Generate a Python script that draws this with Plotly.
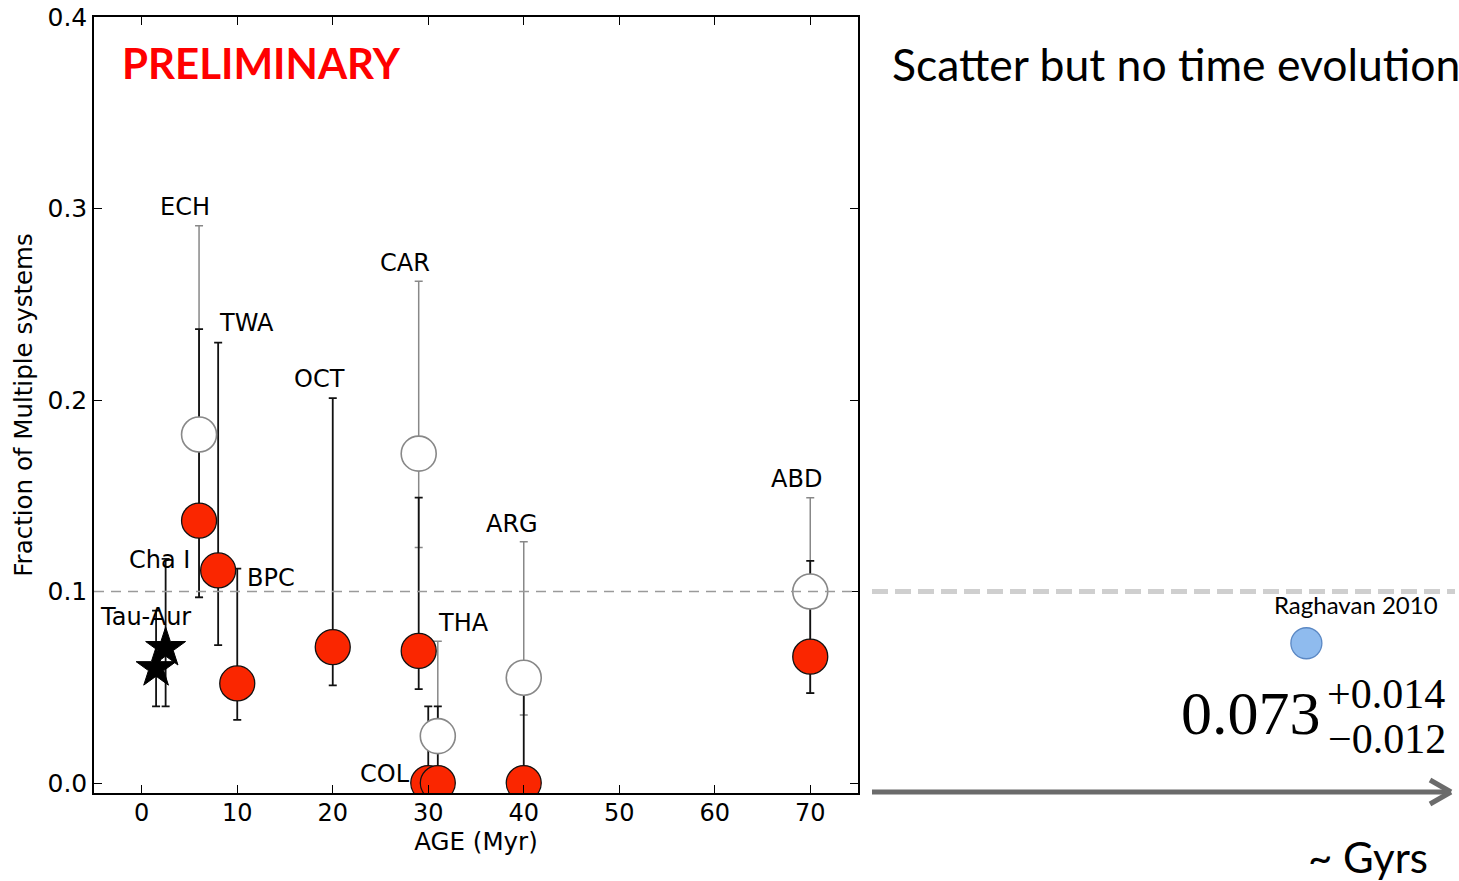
import plotly.graph_objects as go

# ---- data ---------------------------------------------------------------
# filled (red) estimates per moving group: age [Myr], fraction, upper / lower bound
red_names = ["ECH", "TWA", "BPC", "OCT", "CAR", "COL", "THA", "ARG", "ABD"]
red_age = [6, 8, 10, 20, 29, 30, 31, 40, 70]
red_frac = [0.137, 0.111, 0.052, 0.071, 0.069, 0.0, 0.0, 0.0, 0.066]
red_hi = [0.237, 0.230, 0.112, 0.201, 0.149, 0.040, 0.040, 0.050, 0.116]
red_lo = [0.097, 0.072, 0.033, 0.051, 0.049, 0.0, 0.0, 0.0, 0.047]

# open (white) estimates
open_names = ["ECH", "CAR", "THA", "ARG", "ABD"]
open_age = [6, 29, 31, 40, 70]
open_frac = [0.182, 0.172, 0.0245, 0.055, 0.100]
open_hi = [0.291, 0.262, 0.074, 0.126, 0.149]
open_lo = [0.097, 0.123, 0.016, 0.0355, 0.047]

# star-forming regions (stars)
star_names = ["Tau-Aur", "Cha I"]
star_age = [1.5, 2.5]
star_frac = [0.060, 0.0705]
star_hi = [0.090, 0.117]
star_lo = [0.040, 0.040]

# field reference value
field_label = "Raghavan 2010"
field_frac = 0.073
field_plus = 0.014
field_minus = 0.012
field_pos = 0.74  # position along the schematic "~ Gyrs" axis

reference_level = 0.1

x_ticks = [0, 10, 20, 30, 40, 50, 60, 70]
y_ticks = [0.0, 0.1, 0.2, 0.3, 0.4]
y_ticktext = ["0.0", "0.1", "0.2", "0.3", "0.4"]

# label positions (age, fraction)
group_labels = [
    ("ECH", 4.5, 0.301), ("CAR", 27.6, 0.2715), ("TWA", 11.0, 0.240),
    ("OCT", 18.6, 0.211), ("ABD", 68.6, 0.1587), ("ARG", 38.8, 0.1352),
    ("Cha I", 1.9, 0.1164), ("BPC", 13.5, 0.107), ("Tau-Aur", 0.4, 0.0867),
    ("THA", 33.7, 0.0836), ("COL", 25.5, 0.0047),
]

# ---- geometry -----------------------------------------------------------
W, H = 1459, 881
ML, MR, MT, MB = 94, 0, 17, 88
PW, PH = W - ML - MR, H - MT - MB


def px(p):
    return (p - ML) / PW


def py(p):
    return (H - MB - p) / PH


main_domain = [0, px(858)]
side_domain = [px(872), 1.0]
y_range = [-0.0052, 0.4]


def plus(v, hi):
    return [h - x for x, h in zip(v, hi)]


def minus(v, lo):
    return [x - l for x, l in zip(v, lo)]


invisible = dict(size=1, color="rgba(0,0,0,0)")
fig = go.Figure()

# error bars first so that markers sit on top of them
fig.add_trace(go.Scatter(
    x=open_age, y=open_frac, mode="markers", marker=invisible,
    error_y=dict(type="data", symmetric=False, array=plus(open_frac, open_hi),
                 arrayminus=minus(open_frac, open_lo), color="#888888",
                 thickness=1.5, width=4),
    showlegend=False, hoverinfo="skip"))
fig.add_trace(go.Scatter(
    x=red_age, y=red_frac, mode="markers", marker=invisible,
    error_y=dict(type="data", symmetric=False, array=plus(red_frac, red_hi),
                 arrayminus=minus(red_frac, red_lo), color="#111111",
                 thickness=1.8, width=4),
    showlegend=False, hoverinfo="skip"))
fig.add_trace(go.Scatter(
    x=star_age, y=star_frac, mode="markers", marker=invisible,
    error_y=dict(type="data", symmetric=False, array=plus(star_frac, star_hi),
                 arrayminus=minus(star_frac, star_lo), color="#111111",
                 thickness=1.8, width=4),
    showlegend=False, hoverinfo="skip"))

fig.add_trace(go.Scatter(
    x=open_age, y=open_frac, mode="markers", text=open_names,
    marker=dict(symbol="circle", size=35, color="white",
                line=dict(color="#888888", width=1.6)),
    showlegend=False))
fig.add_trace(go.Scatter(
    x=red_age, y=red_frac, mode="markers", text=red_names,
    marker=dict(symbol="circle", size=35, color="#FA2600",
                line=dict(color="#111111", width=1.3)),
    showlegend=False))
fig.add_trace(go.Scatter(
    x=star_age, y=star_frac, mode="markers", text=star_names,
    marker=dict(symbol="star", size=30, color="black",
                line=dict(color="black", width=1)),
    showlegend=False))

# field value on the schematic right-hand axis
fig.add_trace(go.Scatter(
    x=[field_pos], y=[field_frac], mode="markers", xaxis="x2", yaxis="y2",
    marker=dict(symbol="circle", size=31, color="#8FBBEE",
                line=dict(color="#5B88C4", width=1.3)),
    showlegend=False))

axis_common = dict(
    showgrid=False, zeroline=False, showline=True, linecolor="black",
    linewidth=1.5, mirror="ticks", ticks="inside", ticklen=8, tickwidth=1,
    tickcolor="black")

fig.update_layout(
    width=W, height=H, margin=dict(l=ML, r=MR, t=MT, b=MB),
    paper_bgcolor="white", plot_bgcolor="white",
    xaxis=dict(domain=main_domain, range=[-5, 75], tickvals=x_ticks,
               tickfont=dict(family="DejaVu Sans", size=24, color="black"),
               ticklabelstandoff=-3,
               title=dict(text="AGE (Myr)", standoff=2,
                          font=dict(family="DejaVu Sans", size=24.5,
                                    color="black")),
               anchor="y", **axis_common),
    yaxis=dict(domain=[0, 1], range=y_range, tickvals=y_ticks,
               ticktext=y_ticktext,
               tickfont=dict(family="DejaVu Sans", size=25, color="black"),
               title=dict(text="Fraction of Multiple systems", standoff=8,
                          font=dict(family="DejaVu Sans", size=24.5,
                                    color="black")),
               anchor="x", **axis_common),
    xaxis2=dict(domain=side_domain, range=[0, 1], visible=False, anchor="y2"),
    yaxis2=dict(domain=[0, 1], range=y_range, visible=False, anchor="x2"),
)

shapes = [
    # reference level inside the panel
    dict(type="line", xref="x", yref="y", x0=-5, x1=75, y0=reference_level,
         y1=reference_level, line=dict(color="#9a9a9a", width=1.5,
                                       dash="10px,7px"), layer="above"),
    # its continuation on the right
    dict(type="line", xref="paper", yref="y", x0=px(872), x1=px(1455),
         y0=reference_level, y1=reference_level,
         line=dict(color="#cfcfcf", width=5, dash="16px,7px")),
    # time arrow
    dict(type="line", xref="paper", yref="paper", x0=px(872), x1=px(1449),
         y0=py(792), y1=py(792), line=dict(color="#6b6b6b", width=5)),
    dict(type="line", xref="paper", yref="paper", x0=px(1430), x1=px(1451),
         y0=py(780), y1=py(792), line=dict(color="#6b6b6b", width=5)),
    dict(type="line", xref="paper", yref="paper", x0=px(1430), x1=px(1451),
         y0=py(804), y1=py(792), line=dict(color="#6b6b6b", width=5)),
]
fig.update_layout(shapes=shapes)

annotations = []
for name, ax_, ay_ in group_labels:
    annotations.append(dict(
        x=ax_, y=ay_, xref="x", yref="y", text=name, showarrow=False,
        xanchor="center", yanchor="middle",
        font=dict(family="DejaVu Sans", size=24, color="black")))

annotations += [
    dict(x=px(261), y=py(63), xref="paper", yref="paper", text="<b>PRELIMINARY</b>",
         showarrow=False, xanchor="center", yanchor="middle",
         font=dict(family="Lato", size=42, color="#FF0000")),
    dict(x=px(890), y=py(63), xref="paper", yref="paper",
         text="Scatter but no time evolution", showarrow=False,
         xanchor="left", yanchor="middle",
         font=dict(family="Lato", size=44.5, color="black")),
    dict(x=px(1356), y=py(604), xref="paper", yref="paper", text=field_label,
         showarrow=False, xanchor="center", yanchor="middle",
         font=dict(family="Lato", size=24, color="black")),
    dict(x=px(1323), y=py(713), xref="paper", yref="paper",
         text=f"{field_frac:.3f}", showarrow=False, xanchor="right",
         yanchor="middle",
         font=dict(family="Liberation Serif", size=62, color="black")),
    dict(x=px(1325), y=py(694), xref="paper", yref="paper",
         text=f"+{field_plus:.3f}", showarrow=False, xanchor="left",
         yanchor="middle",
         font=dict(family="Liberation Serif", size=42, color="black")),
    dict(x=px(1326), y=py(739), xref="paper", yref="paper",
         text=f"\u2212{field_minus:.3f}", showarrow=False, xanchor="left",
         yanchor="middle",
         font=dict(family="Liberation Serif", size=42, color="black")),
    dict(x=px(1430), y=py(857), xref="paper", yref="paper", text="~ Gyrs",
         showarrow=False, xanchor="right", yanchor="middle",
         font=dict(family="Lato", size=42, color="black")),
]
fig.update_layout(annotations=annotations)

fig.write_html("out.html")
